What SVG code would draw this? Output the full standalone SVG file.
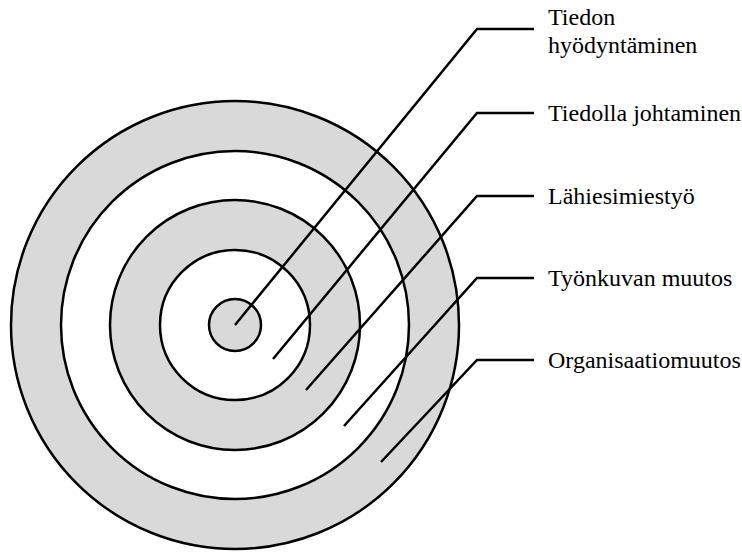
<svg xmlns="http://www.w3.org/2000/svg" width="742" height="552" viewBox="0 0 742 552">
<style>
.ring{stroke:#000;stroke-width:2.5}
.g{fill:#d9d9d9}
.w{fill:#fff}
.c{fill:none;stroke:#000;stroke-width:2.5}
.t{font-family:'Liberation Serif','DejaVu Serif',serif;font-size:24px;fill:#000}
</style>
<rect width="742" height="552" fill="#fff"/>
<g id="organisaatiomuutos-ring"><circle class="ring g" cx="235" cy="325" r="224"/></g>
<g id="tyonkuvan-ring"><circle class="ring w" cx="235" cy="325" r="174"/></g>
<g id="lahiesimiestyo-ring"><circle class="ring g" cx="235" cy="325" r="125"/></g>
<g id="tiedolla-ring"><circle class="ring w" cx="235" cy="325" r="75"/></g>
<g id="tiedon-ring"><circle class="ring g" cx="235" cy="325" r="26"/></g>
<g id="connectors">
<polyline class="c" points="235,325 477,29 534,29"/>
<polyline class="c" points="273,359 477,113 534,113"/>
<polyline class="c" points="306,390 477,196 534,196"/>
<polyline class="c" points="344,426 477,278 534,278"/>
<polyline class="c" points="381,462 477,360 534,360"/>
</g>
<g id="label-tiedon"><text class="t" font-family="Liberation Serif, serif" x="548" y="25">Tiedon</text><text class="t" font-family="Liberation Serif, serif" x="548" y="53">hyödyntäminen</text></g>
<g id="label-tiedolla"><text class="t" font-family="Liberation Serif, serif" x="548" y="121">Tiedolla johtaminen</text></g>
<g id="label-lahi"><text class="t" font-family="Liberation Serif, serif" x="548" y="204">Lähiesimiestyö</text></g>
<g id="label-tyonkuva"><text class="t" font-family="Liberation Serif, serif" x="548" y="286">Työnkuvan muutos</text></g>
<g id="label-org"><text class="t" font-family="Liberation Serif, serif" x="548" y="368">Organisaatiomuutos</text></g>
</svg>
